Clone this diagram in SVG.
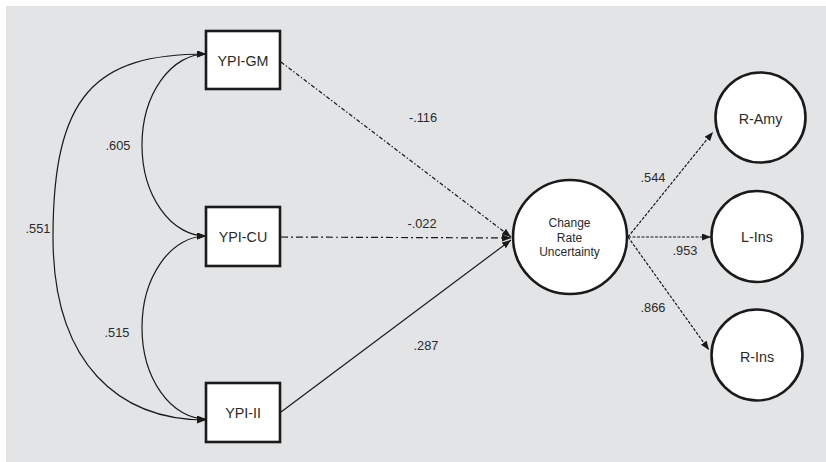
<svg xmlns="http://www.w3.org/2000/svg" width="826" height="462" viewBox="0 0 826 462">
<style>
.bg{fill:#e3e4e6}
.box{fill:#fff;stroke:#1a1a1a;stroke-width:2.6}
.circ{fill:#fff;stroke:#1a1a1a;stroke-width:2.6}
.lbl{font-family:"Liberation Sans",Arial,sans-serif;font-size:14.3px;fill:#2a2a2a;text-anchor:middle}
.small{font-family:"Liberation Sans",Arial,sans-serif;font-size:12px;fill:#2a2a2a;text-anchor:middle}
.num{font-family:"Liberation Sans",Arial,sans-serif;font-size:12.8px;fill:#2a2a2a;text-anchor:middle}
.edge{fill:none;stroke:#1a1a1a;stroke-width:1.2}
.cov{marker-start:url(#ahs);marker-end:url(#ah)}
.path{marker-end:url(#ah)}
.dd1{stroke-dasharray:4 2 1.5 2}
.dd2{stroke-dasharray:7 3 2 3}
.dsh{stroke-dasharray:3 1.5}
</style>
<defs>
<marker id="ah" markerUnits="userSpaceOnUse" markerWidth="10" markerHeight="8" refX="9" refY="3.5" orient="auto">
<path d="M0,0 L9,3.5 L0,7 z" fill="#1a1a1a"/>
</marker>
<marker id="ahs" markerUnits="userSpaceOnUse" markerWidth="10" markerHeight="8" refX="9" refY="3.5" orient="auto-start-reverse">
<path d="M0,0 L9,3.5 L0,7 z" fill="#1a1a1a"/>
</marker>
</defs>
<rect class="bg" x="6" y="6" width="820" height="456"/>
<g id="connectors">
<path class="edge cov" d="M206,54 A64,91 0 0 0 206,236"/>
<path class="edge cov" d="M206,236 A64,91.5 0 0 0 206,419"/>
<path class="edge cov" d="M206,54 C95,54 53,95 53,237 C53,365 120,420 206,420"/>
<path class="edge path dd1" d="M281,62 L511,237"/>
<path class="edge path dd2" d="M281,237 L511,238"/>
<path class="edge path" d="M281,412 L511,240"/>
<path class="edge path dsh" d="M628,237 L713,132"/>
<path class="edge path dsh" d="M628,237 L711,237"/>
<path class="edge path dsh" d="M628,237 L709,350"/>
<text class="num" x="118" y="149.5">.605</text>
<text class="num" x="38" y="232.5">.551</text>
<text class="num" x="117" y="336.5">.515</text>
<text class="num" x="423" y="121.5">-.116</text>
<text class="num" x="422" y="227.5">-.022</text>
<text class="num" x="426" y="349.5">.287</text>
<text class="num" x="653" y="181.5">.544</text>
<text class="num" x="685" y="254.5">.953</text>
<text class="num" x="653" y="311.5">.866</text>
</g>
<g id="ypi-gm">
<rect class="box" x="206" y="31" width="74" height="58"/>
<text class="lbl" x="243" y="66">YPI-GM</text>
</g>
<g id="ypi-cu">
<rect class="box" x="206" y="207" width="74" height="59"/>
<text class="lbl" x="243" y="242">YPI-CU</text>
</g>
<g id="ypi-ii">
<rect class="box" x="206" y="383" width="74" height="59"/>
<text class="lbl" x="243" y="418">YPI-II</text>
</g>
<g id="cru">
<circle class="circ" cx="570" cy="237" r="57"/>
<text class="small" x="569.5" y="227">Change</text>
<text class="small" x="569.5" y="241.5">Rate</text>
<text class="small" x="569.5" y="256">Uncertainty</text>
</g>
<g id="r-amy">
<circle class="circ" cx="760.5" cy="117.5" r="45"/>
<text class="lbl" x="760.5" y="123.5">R-Amy</text>
</g>
<g id="l-ins">
<circle class="circ" cx="757" cy="236.5" r="45.5"/>
<text class="lbl" x="757" y="242">L-Ins</text>
</g>
<g id="r-ins">
<circle class="circ" cx="757" cy="355" r="45.5"/>
<text class="lbl" x="757" y="361.5">R-Ins</text>
</g>
</svg>
